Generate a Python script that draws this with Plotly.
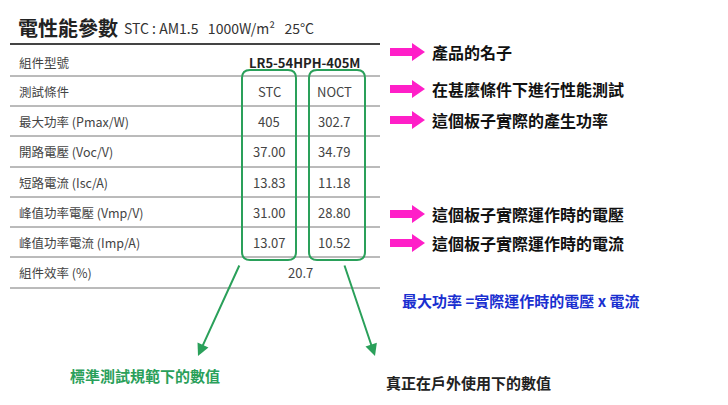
import plotly.graph_objects as go

row_labels = ["組件型號", "測試條件", "最大功率 (Pmax/W)", "開路電壓 (Voc/V)", "短路電流 (Isc/A)",
              "峰值功率電壓 (Vmp/V)", "峰值功率電流 (Imp/A)", "組件效率 (%)"]
stc_vals = ["", "STC", "405", "37.00", "13.83", "31.00", "13.07", ""]
noct_vals = ["", "NOCT", "302.7", "34.79", "11.18", "28.80", "10.52", ""]
model_name = "LR5-54HPH-405M"
efficiency = "20.7"
notes = ["產品的名子", "在甚麼條件下進行性能測試", "這個板子實際的產生功率",
         "這個板子實際運作時的電壓", "這個板子實際運作時的電流"]

FONT = "Noto Sans CJK TC"
row_y = [62, 91, 121, 151, 182, 212, 242, 272]
line_y = [44, 76, 106, 136, 167, 197, 227, 257, 288]

fig = go.Figure()
fig.add_trace(go.Scatter(x=[8, 736], y=[8, 413], mode="markers", marker=dict(opacity=0),
                         hoverinfo="skip", showlegend=False))
shapes, ann = [], []

def text(x, y, s, size=12, color="#333", anchor="left", bold=False):
    ann.append(dict(x=x, y=y, text=f"<b>{s}</b>" if bold else s, showarrow=False, xanchor=anchor,
                    yanchor="middle", font=dict(family=FONT, size=size, color=color)))

text(16, 27, "電性能參數", 20, "#222", bold=True)
text(122, 28, "STC : AM1.5   1000W/m²   25°C", 14, "#333")
for i, yy in enumerate(line_y):
    shapes.append(dict(type="line", x0=10, x1=380, y0=yy, y1=yy,
                       line=dict(color="#444" if i == 0 else "#777", width=2 if i == 0 else 1)))
for i, lab in enumerate(row_labels):
    text(17, row_y[i], lab, 12.5, "#444")
    text(269, row_y[i], stc_vals[i], 13, "#444", "center")
    text(334, row_y[i], noct_vals[i], 13, "#444", "center")
text(362, row_y[0], model_name, 13, "#222", "right", bold=True)
text(300, row_y[7], efficiency, 13, "#444", "center")

green = "#2aa05a"
def rbox(x0, x1, y0, y1, r=8):
    return dict(type="path", line=dict(color=green, width=2),
                path=f"M{x0+r},{y0} L{x1-r},{y0} Q{x1},{y0} {x1},{y0+r} L{x1},{y1-r} Q{x1},{y1} {x1-r},{y1} "
                     f"L{x0+r},{y1} Q{x0},{y1} {x0},{y1-r} L{x0},{y0+r} Q{x0},{y0} {x0+r},{y0} Z")
shapes += [rbox(242, 296, 70, 260), rbox(309, 365, 70, 260)]
ann.append(dict(x=198, y=356, ax=240, ay=264, xref="x", yref="y", axref="x", ayref="y", showarrow=True,
                arrowhead=2, arrowsize=1.2, arrowwidth=2, arrowcolor=green, text=""))
ann.append(dict(x=375, y=356, ax=344, ay=264, xref="x", yref="y", axref="x", ayref="y", showarrow=True,
                arrowhead=2, arrowsize=1.2, arrowwidth=2, arrowcolor=green, text=""))
text(145, 375, "標準測試規範下的數值", 15, green, "center", bold=True)
text(468, 382, "真正在戶外使用下的數值", 15, "#222", "center", bold=True)

pink = "#ff1fc8"
note_y = [52, 89, 120, 214, 243]
for j, n in enumerate(notes):
    yy = note_y[j]
    shapes.append(dict(type="path", fillcolor=pink, line=dict(width=0),
                       path=f"M390,{yy-4} L412,{yy-4} L412,{yy-9} L425,{yy} L412,{yy+9} L412,{yy+4} L390,{yy+4} Z"))
    text(430, yy, n, 16, "#111", bold=True)
text(400, 300, "最大功率 =實際運作時的電壓 x 電流", 15, "#1a2fd0", bold=True)

fig.update_layout(width=728, height=405, margin=dict(l=0, r=0, t=0, b=0),
                  plot_bgcolor="white", paper_bgcolor="white", shapes=shapes, annotations=ann,
                  xaxis=dict(range=[8, 736], visible=False, fixedrange=True),
                  yaxis=dict(range=[413, 8], visible=False, fixedrange=True))
fig.write_html("out.html")
